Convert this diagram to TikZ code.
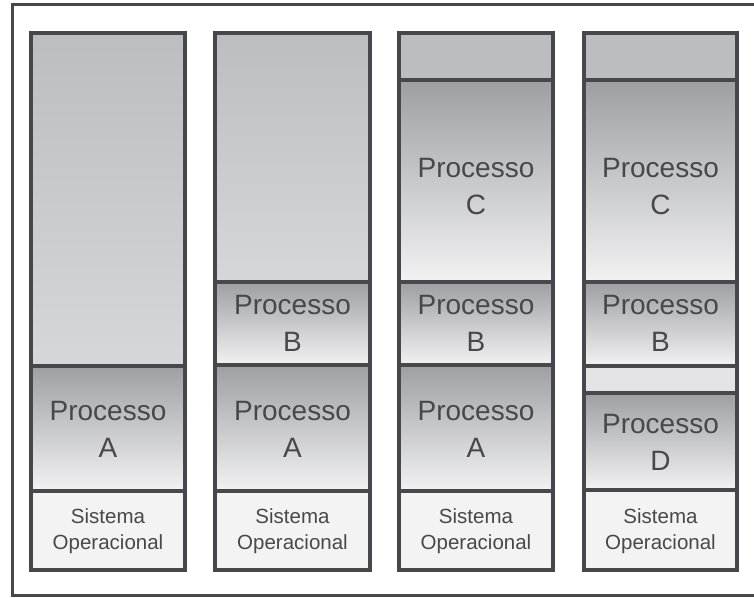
\documentclass[tikz,border=0pt]{standalone}
\usepackage{fontspec}
\setmainfont{Liberation Sans}
\usepackage{xcolor}
\definecolor{linha}{RGB}{72,72,76}
\definecolor{texto}{RGB}{72,72,75}
\definecolor{livreA}{RGB}{188,189,193}
\definecolor{livreB}{RGB}{214,215,218}
\definecolor{procA}{RGB}{158,159,163}
\definecolor{procB}{RGB}{242,242,243}
\definecolor{sisop}{RGB}{243,243,244}
\definecolor{folga}{RGB}{228,228,230}

\begin{document}
\begin{tikzpicture}[x=1pt,y=1pt,yscale=-1,xscale=1,
  livre/.style={draw=linha,line width=3.6pt,top color=livreA,bottom color=livreB},
  topo/.style={draw=linha,line width=3.6pt,fill=livreA},
  proc/.style={draw=linha,line width=3.6pt,top color=procA,bottom color=procB},
  so/.style={draw=linha,line width=3.6pt,fill=sisop},
  vazio/.style={draw=linha,line width=3.6pt,fill=folga},
  rotulo/.style={text=texto,align=center,font=\fontsize{28}{37}\selectfont},
  rotuloso/.style={text=texto,align=center,font=\fontsize{20.5}{26}\selectfont}]

\useasboundingbox (0,0) rectangle (754,597);

% moldura
\draw[linha,line width=3pt] (12,4) -- (760,4) -- (760,595) -- (12,595) -- cycle ;

% coluna 1
\draw[livre] (31,33) rectangle (185,366) ;
\draw[proc]  (31,366) rectangle (185,491) ;
\draw[so]    (31,491) rectangle (185,570) ;

% coluna 2
\draw[livre] (215,33) rectangle (370,282) ;
\draw[proc]  (215,282) rectangle (370,365) ;
\draw[proc]  (215,365) rectangle (370,491) ;
\draw[so]    (215,491) rectangle (370,570) ;

% coluna 3
\draw[topo]  (399,33) rectangle (553,80) ;
\draw[proc]  (399,80) rectangle (553,282) ;
\draw[proc]  (399,282) rectangle (553,365) ;
\draw[proc]  (399,365) rectangle (553,491) ;
\draw[so]    (399,491) rectangle (553,570) ;

% coluna 4
\draw[topo]  (584,33) rectangle (737,80) ;
\draw[proc]  (584,80) rectangle (737,282) ;
\draw[proc]  (584,282) rectangle (737,366) ;
\draw[vazio] (584,366) rectangle (737,393) ;
\draw[proc]  (584,393) rectangle (737,490) ;
\draw[so]    (584,490) rectangle (737,570) ;

% textos
\node[rotulo] (a1) at (108,429) {Processo\\A};
\node[rotulo] (b2) at (292.5,323) {Processo\\B};
\node[rotulo] (a2) at (292.5,429) {Processo\\A};
\node[rotulo] (c3) at (476,187) {Processo\\C};
\node[rotulo] (b3) at (476,323) {Processo\\B};
\node[rotulo] (a3) at (476,429) {Processo\\A};
\node[rotulo] (c4) at (660.5,187) {Processo\\C};
\node[rotulo] (b4) at (660.5,323) {Processo\\B};
\node[rotulo] (d4) at (660.5,442) {Processo\\D};

\node[rotuloso] (so1) at (108,531) {Sistema\\Operacional};
\node[rotuloso] (so2) at (292.5,531) {Sistema\\Operacional};
\node[rotuloso] (so3) at (476,531) {Sistema\\Operacional};
\node[rotuloso] (so4) at (660.5,531) {Sistema\\Operacional};

\end{tikzpicture}
\end{document}
